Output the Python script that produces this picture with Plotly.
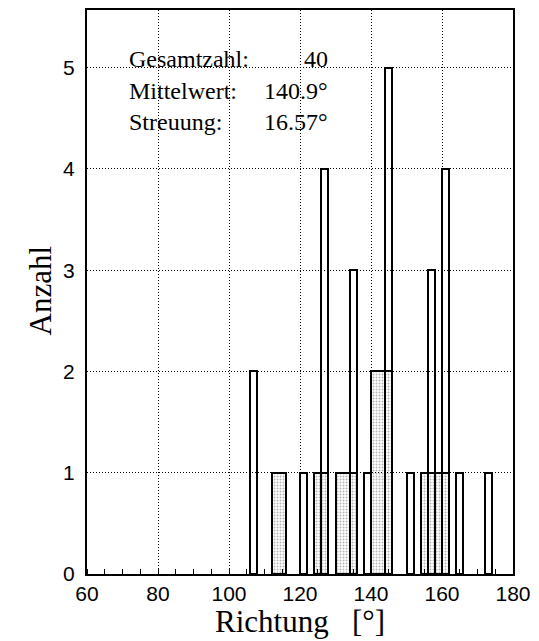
import plotly.graph_objects as go

# Histogram of directions: narrow 2-degree class bars (left edge, count)
bar_left = [106, 120, 126, 134, 138, 144, 150, 156, 160, 164, 172]
bar_count = [2, 1, 4, 3, 1, 5, 1, 3, 4, 1, 1]
bar_width_deg = 2

# Shaded blocks underneath (start, end, height)
block_start = [112, 124, 130, 140, 154]
block_end = [116, 128, 136, 146, 162]
block_height = [1, 1, 1, 2, 1]

# Summary statistics
stat_labels = ["Gesamtzahl:", "Mittelwert:", "Streuung:"]
stat_values = ["40", "140.9°", "16.57°"]

x_ticks = [60, 80, 100, 120, 140, 160, 180]
y_ticks = [0, 1, 2, 3, 4, 5]

SERIF = "Liberation Serif, Times New Roman, serif"
SANS = "Liberation Sans, Arial, Helvetica, sans-serif"

fig = go.Figure()

fig.add_trace(go.Bar(
    x=[(s + e) / 2 for s, e in zip(block_start, block_end)],
    y=block_height,
    width=[e - s for s, e in zip(block_start, block_end)],
    base=0,
    marker=dict(
        color="rgba(0,0,0,0)",
        line=dict(color="black", width=2),
        pattern=dict(shape=".", fgcolor="#6e6e6e", size=3, solidity=0.35),
    ),
    hoverinfo="skip",
    showlegend=False,
))

fig.add_trace(go.Bar(
    x=[l + bar_width_deg / 2 for l in bar_left],
    y=bar_count,
    width=[bar_width_deg] * len(bar_left),
    base=0,
    marker=dict(color="rgba(0,0,0,0)", line=dict(color="black", width=2)),
    showlegend=False,
))

for i, (lab, val) in enumerate(zip(stat_labels, stat_values)):
    yp = [0.913, 0.857, 0.802][i]
    fig.add_annotation(x=0.095, y=yp, xref="paper", yref="paper", text=lab,
                       showarrow=False, xanchor="left", yanchor="middle",
                       font=dict(family=SERIF, size=24, color="black"))
    fig.add_annotation(x=0.57, y=yp, xref="paper", yref="paper", text=val,
                       showarrow=False, xanchor="right", yanchor="middle",
                       font=dict(family=SERIF, size=24, color="black"))

fig.add_annotation(x=-0.109, y=0.502, xref="paper", yref="paper", text="Anzahl",
                   textangle=-90, showarrow=False, xanchor="center", yanchor="middle",
                   font=dict(family=SERIF, size=31, color="black"))
fig.add_annotation(x=0.5, y=-0.085, xref="paper", yref="paper",
                   text="Richtung\u00a0\u00a0\u00a0[°]",
                   showarrow=False, xanchor="center", yanchor="middle",
                   font=dict(family=SERIF, size=31, color="black"))

fig.update_layout(
    width=539, height=641,
    margin=dict(l=87, r=20, t=8, b=67),
    paper_bgcolor="white", plot_bgcolor="white",
    barmode="overlay",
    bargap=0,
)

fig.update_xaxes(
    range=[60, 180], tickvals=x_ticks,
    showgrid=True, gridcolor="black", gridwidth=1, griddash="1px,2px",
    showline=True, linecolor="black", linewidth=2, mirror=True,
    ticks="", zeroline=False,
    tickfont=dict(family=SANS, size=21, color="black"),
    minor=dict(dtick=5, tick0=60, ticks="inside", ticklen=5, tickcolor="black",
               tickwidth=1, showgrid=False),
)
fig.update_yaxes(
    range=[0, 5.57], tickvals=y_ticks,
    showgrid=True, gridcolor="black", gridwidth=1, griddash="1px,2px",
    showline=True, linecolor="black", linewidth=2, mirror=True,
    ticks="", zeroline=False, ticklabelstandoff=6,
    tickfont=dict(family=SANS, size=21, color="black"),
)

fig.write_html("out.html")
